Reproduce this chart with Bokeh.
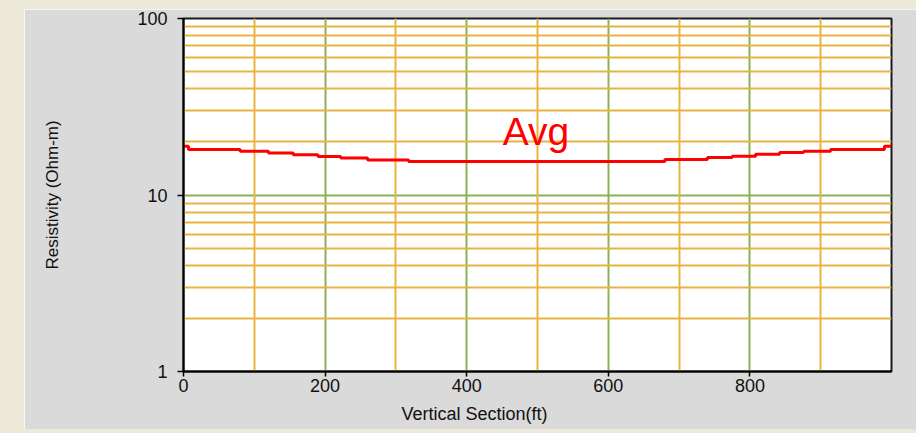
from bokeh.plotting import figure
from bokeh.models import FixedTicker, Grid, Label, NumeralTickFormatter, Title
from bokeh.embed import file_html
from bokeh.resources import INLINE

# ---- data ----
depth = [0, 7, 80, 120, 155, 190, 222, 260, 318, 680, 740, 775, 808, 842, 876, 914, 990, 1000]
resistivity = [18.9, 18.1, 17.7, 17.3, 16.9, 16.5, 16.2, 15.8, 15.5, 15.9, 16.3, 16.6, 17.0, 17.4, 17.7, 18.1, 18.9, 18.9]

x_ticks = [0, 200, 400, 600, 800]
y_ticks = [1, 10, 100]
x_grid_major = [200, 400, 600, 800]
x_grid_minor = [100, 300, 500, 700, 900]
y_grid_major = [10]
y_grid_minor = [2, 3, 4, 5, 6, 7, 8, 9, 20, 30, 40, 50, 60, 70, 80, 90]

series_label = "Avg"
x_title = "Vertical Section(ft)"
y_title = "Resistivity (Ohm-m)"

GRAY = "#DADADA"
BEIGE = "#ECE9D8"
ORANGE = "#E8B440"
GREEN = "#8CB058"
FONT = "Liberation Sans"

p = figure(width=916, height=433, x_range=(0, 1000), y_range=(1, 100),
           y_axis_type="log", output_backend="svg", toolbar_location=None,
           min_border_left=159, min_border_right=49, min_border_top=9,
           min_border_bottom=71)
p.styles = {"border-left": "24px solid " + BEIGE, "border-top": "9px solid " + BEIGE,
            "border-bottom": "4px solid " + BEIGE}

p.border_fill_color = GRAY
p.background_fill_color = "white"
p.outline_line_color = "#1a1a1a"
p.outline_line_width = 2

# grids
p.xgrid.ticker = FixedTicker(ticks=x_grid_major)
p.xgrid.grid_line_color = GREEN
p.xgrid.grid_line_width = 2
p.ygrid.ticker = FixedTicker(ticks=y_grid_major)
p.ygrid.grid_line_color = GREEN
p.ygrid.grid_line_width = 2
p.add_layout(Grid(dimension=0, ticker=FixedTicker(ticks=x_grid_minor),
                  grid_line_color=ORANGE, grid_line_width=2))
p.add_layout(Grid(dimension=1, ticker=FixedTicker(ticks=y_grid_minor),
                  grid_line_color=ORANGE, grid_line_width=2))

# axes
for ax in (p.xaxis[0], p.yaxis[0]):
    ax.axis_line_color = "black"
    ax.axis_line_width = 2
    ax.major_tick_line_color = "black"
    ax.major_tick_line_width = 1.5
    ax.major_tick_in = 0
    ax.minor_tick_line_color = None
    ax.major_label_text_font = FONT
    ax.major_label_text_font_size = "18px"
    ax.major_label_text_color = "#111111"

p.xaxis.ticker = FixedTicker(ticks=x_ticks)
p.xaxis.major_tick_out = 5
p.xaxis.major_label_standoff = 2
p.yaxis.ticker = FixedTicker(ticks=y_ticks)
p.yaxis.formatter = NumeralTickFormatter(format="0")
p.yaxis.major_tick_out = 6
p.yaxis.major_label_standoff = 10
p.yaxis.axis_label = y_title
p.yaxis.axis_label_standoff = 72
p.yaxis.axis_label_text_font = FONT
p.yaxis.axis_label_text_font_size = "17px"
p.yaxis.axis_label_text_font_style = "normal"
p.yaxis.axis_label_text_color = "#111111"

# series
p.step(depth, resistivity, mode="after", line_color="#FF0000", line_width=3)

p.add_layout(Label(x=451, y=23.0, text=series_label, text_color="#FF0000",
                   text_font=FONT, text_font_size="39px",
                   text_align="left", text_baseline="alphabetic"))

# x axis title (offset to match the original's placement)
p.add_layout(Title(text=x_title, align="left", offset=218, standoff=14,
                   text_font=FONT, text_font_size="18px", text_font_style="normal",
                   text_color="#111111"), "below")

open("out.html", "w").write(file_html(p, INLINE))
